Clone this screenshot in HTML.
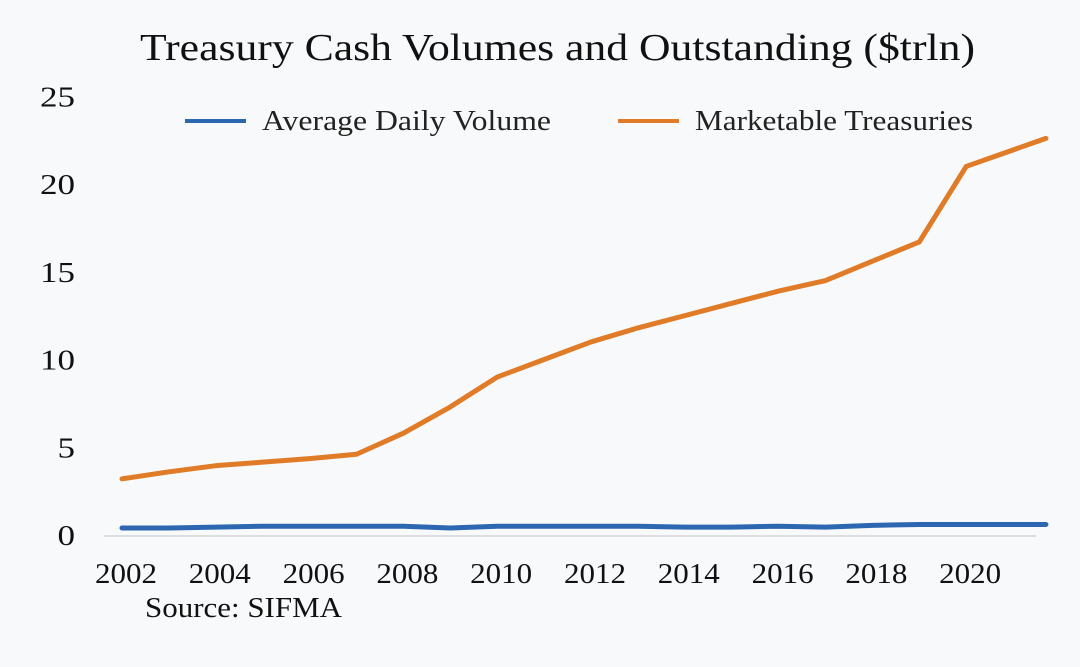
<!DOCTYPE html>
<html><head><meta charset="utf-8"><style>
html,body{margin:0;padding:0;background:#f8f9fa;}
svg{display:block;font-family:"Liberation Serif",serif;}
</style></head><body>
<svg id="chart" width="1080" height="667">
<rect x="0" y="0" width="1080" height="667" fill="#f8f9fa"/>
<text x="140" y="60" font-size="38" textLength="835" lengthAdjust="spacingAndGlyphs" fill="#111">Treasury Cash Volumes and Outstanding ($trln)</text>
<g>
<g>
<line x1="185" y1="121" x2="246" y2="121" stroke="#2e67b1" stroke-width="4"/>
<text x="262" y="130" font-size="28" textLength="289" lengthAdjust="spacingAndGlyphs" fill="#222">Average Daily Volume</text></g>
<g>
<line x1="618" y1="121" x2="679" y2="121" stroke="#e07b28" stroke-width="4"/>
<text x="695" y="130" font-size="28" textLength="278" lengthAdjust="spacingAndGlyphs" fill="#222">Marketable Treasuries</text></g>
</g>
<line x1="104" y1="536" x2="1036" y2="536" stroke="#d4d6da" stroke-width="1.5"/>
<g id="yt"></g>
<g id="xt"></g>
<g id="series"></g>
<text x="145" y="617" font-size="28" textLength="197" lengthAdjust="spacingAndGlyphs" fill="#111">Source: SIFMA</text>
</svg>
<script>
const years=[2002,2003,2004,2005,2006,2007,2008,2009,2010,2011,2012,2013,2014,2015,2016,2017,2018,2019,2020,2021.7];
const treasuries=[3.2,3.6,3.95,4.15,4.35,4.6,5.8,7.3,9.0,10.0,11.0,11.8,12.5,13.2,13.9,14.5,15.6,16.7,21.0,22.6];
const volume=[0.4,0.4,0.45,0.5,0.5,0.5,0.5,0.4,0.5,0.5,0.5,0.5,0.45,0.45,0.5,0.45,0.55,0.6,0.6,0.6];
const yTicks=[0,5,10,15,20,25];
const xTicks=[2002,2004,2006,2008,2010,2012,2014,2016,2018,2020];
const NS="http://www.w3.org/2000/svg";
const x=v=>122+(v-2002)*46.9;
const y=v=>535-v*17.55;
const yt=document.getElementById('yt'),xt=document.getElementById('xt'),sg=document.getElementById('series');
yTicks.forEach(t=>{const e=document.createElementNS(NS,'text');
const s=String(t);
e.setAttribute('x',75-s.length*17.5);e.setAttribute('y',y(t)+10);e.setAttribute('font-size','28');e.setAttribute('fill','#111');
e.setAttribute('textLength',s.length*17.5);e.setAttribute('lengthAdjust','spacingAndGlyphs');e.textContent=s;


yt.appendChild(e);});
xTicks.forEach(t=>{const e=document.createElementNS(NS,'text');
e.setAttribute('x',x(t)-27);e.setAttribute('y',583);e.setAttribute('font-size','28');e.setAttribute('fill','#111');
e.setAttribute('textLength','62');e.setAttribute('lengthAdjust','spacingAndGlyphs');e.textContent=t;


xt.appendChild(e);});
function line(vals,color,name){const p=document.createElementNS(NS,'polyline');
p.setAttribute('points',vals.map((v,i)=>x(years[i])+','+y(v)).join(' '));
p.setAttribute('fill','none');p.setAttribute('stroke',color);p.setAttribute('stroke-width','5');p.setAttribute('stroke-linejoin','round');p.setAttribute('stroke-linecap','round');


sg.appendChild(p);}
line(volume,'#2e67b1','volume-line');
line(treasuries,'#e07b28','treasuries-line');
</script>
</body></html>
